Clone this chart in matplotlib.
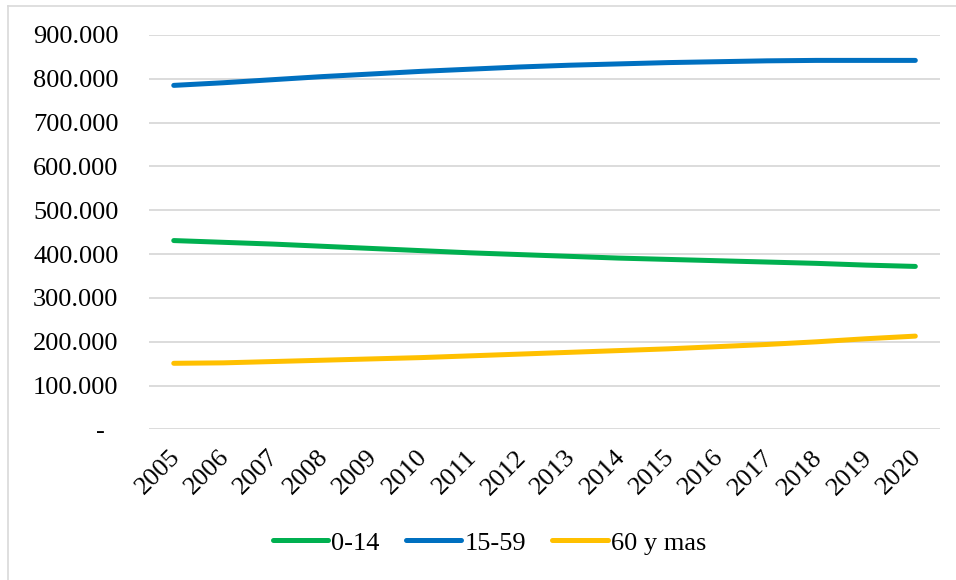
import matplotlib
matplotlib.use("Agg")
import matplotlib.pyplot as plt
import matplotlib.transforms as mtransforms
from matplotlib.ticker import FixedLocator, FuncFormatter
from matplotlib.lines import Line2D

years = [str(y) for y in range(2005, 2021)]
age_0_14 = [431000, 427000, 423000, 418000, 413000, 408000, 403000, 399000,
            395000, 391000, 388000, 385000, 382000, 379000, 375000, 372000]
age_15_59 = [785000, 791000, 798000, 805000, 811000, 817000, 822000, 827000,
             831000, 834000, 837000, 839000, 841000, 842000, 842000, 842000]
age_60_plus = [151000, 152000, 155000, 158000, 161000, 164000, 168000, 172000,
               176000, 180000, 184000, 189000, 194000, 200000, 207000, 213000]

series = [("0-14", age_0_14, "#00B050"),
          ("15-59", age_15_59, "#0070C0"),
          ("60 y mas", age_60_plus, "#FFC000")]

plt.rcParams["font.family"] = ["Liberation Serif", "DejaVu Serif"]
FS = 19
LW = 3.6

fig = plt.figure(figsize=(9.56, 5.8), dpi=100)
ax = fig.add_axes([0.1559, 0.2595, 0.9833 - 0.1559, 0.9397 - 0.2595])

x = list(range(len(years)))
for name, vals, col in series:
    ax.plot(x, vals, color=col, lw=LW, solid_capstyle="round", label=name)

ax.set_xlim(-0.5, len(years) - 0.5)
ax.set_ylim(0, 900000)
ax.yaxis.set_major_locator(FixedLocator(range(0, 900001, 100000)))


def fmt(v, pos):
    if v == 0:
        return "-  "
    return f"{int(v):,}".replace(",", ".")


ax.yaxis.set_major_formatter(FuncFormatter(fmt))
ax.grid(axis="y", color="#D9D9D9", lw=1.3)
ax.set_axisbelow(True)
for s in ax.spines.values():
    s.set_visible(False)
ax.tick_params(axis="y", length=0, pad=22, labelsize=FS)
ax.tick_params(axis="x", length=0, pad=12, labelsize=FS)
ax.set_xticks(x)
ax.set_xticklabels(years, rotation=45, ha="right", rotation_mode="anchor")
shift = mtransforms.ScaledTranslation(-5 / 100, 0, fig.dpi_scale_trans)
for lbl in ax.get_xticklabels():
    lbl.set_transform(lbl.get_transform() + shift)

handles = [Line2D([0], [0], color=c, lw=LW, solid_capstyle="round") for _, _, c in series]
fig.legend(handles, [n for n, _, _ in series], loc="center", ncol=3,
           bbox_to_anchor=(0.512, 0.064), frameon=False, fontsize=FS,
           handlelength=2.1, handletextpad=0.12, columnspacing=1.0)

# chart-area border
fig.add_artist(Line2D([8 / 956, 8 / 956], [0, 1 - 6 / 580], color="#D9D9D9", lw=1.2,
                      transform=fig.transFigure))
fig.add_artist(Line2D([8 / 956, 1], [1 - 6 / 580, 1 - 6 / 580], color="#D9D9D9", lw=1.2,
                      transform=fig.transFigure))

fig.savefig("out.png", dpi=100)
